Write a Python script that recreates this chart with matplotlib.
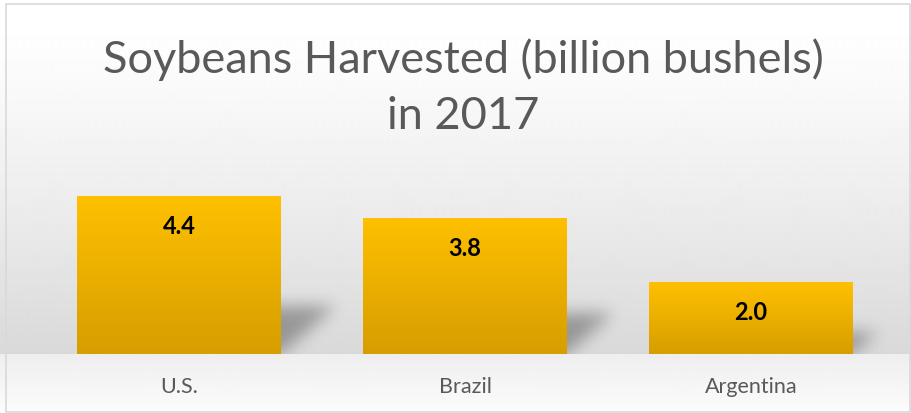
import numpy as np
import matplotlib
matplotlib.use('Agg')
import matplotlib.pyplot as plt
from matplotlib.patches import Rectangle
from matplotlib.colors import LinearSegmentedColormap

# Chart data
countries = ['U.S.', 'Brazil', 'Argentina']
harvest = [4.4, 3.8, 2.0]
title = 'Soybeans Harvested (billion bushels)\nin 2017'

plt.rcParams['font.family'] = ['Lato', 'DejaVu Sans']

W, H = 912, 414
fig = plt.figure(figsize=(W / 100, H / 100), dpi=100)

# Background: grey gradient above the baseline, lighter "floor" below it
bg = fig.add_axes([0, 0, 1, 1])
bg.set_axis_off()
rows = np.arange(H)
base = 355
shade = np.where(
    rows < base,
    255 - 38 * np.clip((rows - 20) / (base - 20), 0, 1) ** 1.2,
    238 + 14 * np.clip((rows - base) / (H - base), 0, 1),
)
grad = np.repeat((shade / 255)[:, None], 4, axis=1)
bg.imshow(grad, cmap='gray', vmin=0, vmax=1, aspect='auto',
          extent=[0, 1, 0, 1], interpolation='bilinear')
bg.add_patch(Rectangle((6 / W, 1 - 413 / H), 904 / W, 408 / H,
                       fill=False, edgecolor='#d9d9d9', linewidth=1.2))
bg.set_xlim(0, 1)
bg.set_ylim(0, 1)

# Plot area
x0f, wpx, hpx = 36, 858, base - 175.5
ax = fig.add_axes([x0f / W, 1 - base / H, wpx / W, hpx / H])
ax.patch.set_alpha(0)
for s in ax.spines.values():
    s.set_visible(False)
ax.set_yticks([])
ax.tick_params(axis='x', length=0, pad=16)
x = np.arange(len(countries))
width = 0.713

# soft perspective shadows, blurred on a pixel grid
nx, ny = int(wpx), int(round(hpx))
gx = np.linspace(-0.5, 2.5, nx)
gy = np.linspace(0, 5, ny)
GX, GY = np.meshgrid(gx, gy)
mask = np.zeros_like(GX)
for xi, h in zip(x, harvest):
    top = 0.3 * h
    dx = 0.19 * h / 4.4
    skew = dx / top
    lft = xi - width / 2 + 0.15 + skew * GY
    rgt = xi + width / 2 + skew * GY
    mask[(GY <= top) & (GX >= lft) & (GX <= rgt)] = 1.0
sig = 8
k = np.exp(-0.5 * (np.arange(-3 * sig, 3 * sig + 1) / sig) ** 2)
k /= k.sum()
blur = np.apply_along_axis(lambda r: np.convolve(r, k, mode='same'), 1, mask)
blur = np.apply_along_axis(lambda c: np.convolve(c, k, mode='same'), 0, blur)
rgba = np.zeros((ny, nx, 4))
rgba[..., 3] = 0.32 * blur
ax.imshow(rgba, extent=[-0.5, 2.5, 0, 5], origin='lower', aspect='auto',
          zorder=1, interpolation='bilinear')

bars = ax.bar(x, harvest, width=width, color='none', zorder=2)
bar_grad = np.linspace(0, 1, 100)[:, None]
gold = LinearSegmentedColormap.from_list('gold', ['#ffc000', '#d69e00'])
for b in bars:
    bx, by = b.get_x(), b.get_y()
    im = ax.imshow(bar_grad, cmap=gold, aspect='auto', zorder=2,
                   extent=[bx, bx + b.get_width(), by, by + b.get_height()],
                   origin='upper')
    im.set_clip_path(b)
ax.set_xlim(-0.5, 2.5)
ax.set_ylim(0, 5)

for xi, h in zip(x, harvest):
    ax.text(xi, h - 0.82, f'{h:.1f}', ha='center', va='center',
            fontsize=17, fontweight='bold', color='black', zorder=3)

ax.set_xticks(x)
ax.set_xticklabels(countries, fontsize=15.5, color='#595959')

fig.text(463 / W, 1 - 88 / H, title, ha='center', va='center',
         fontsize=32.5, color='#595959', linespacing=1.45)

fig.savefig('out.png', dpi=100)
